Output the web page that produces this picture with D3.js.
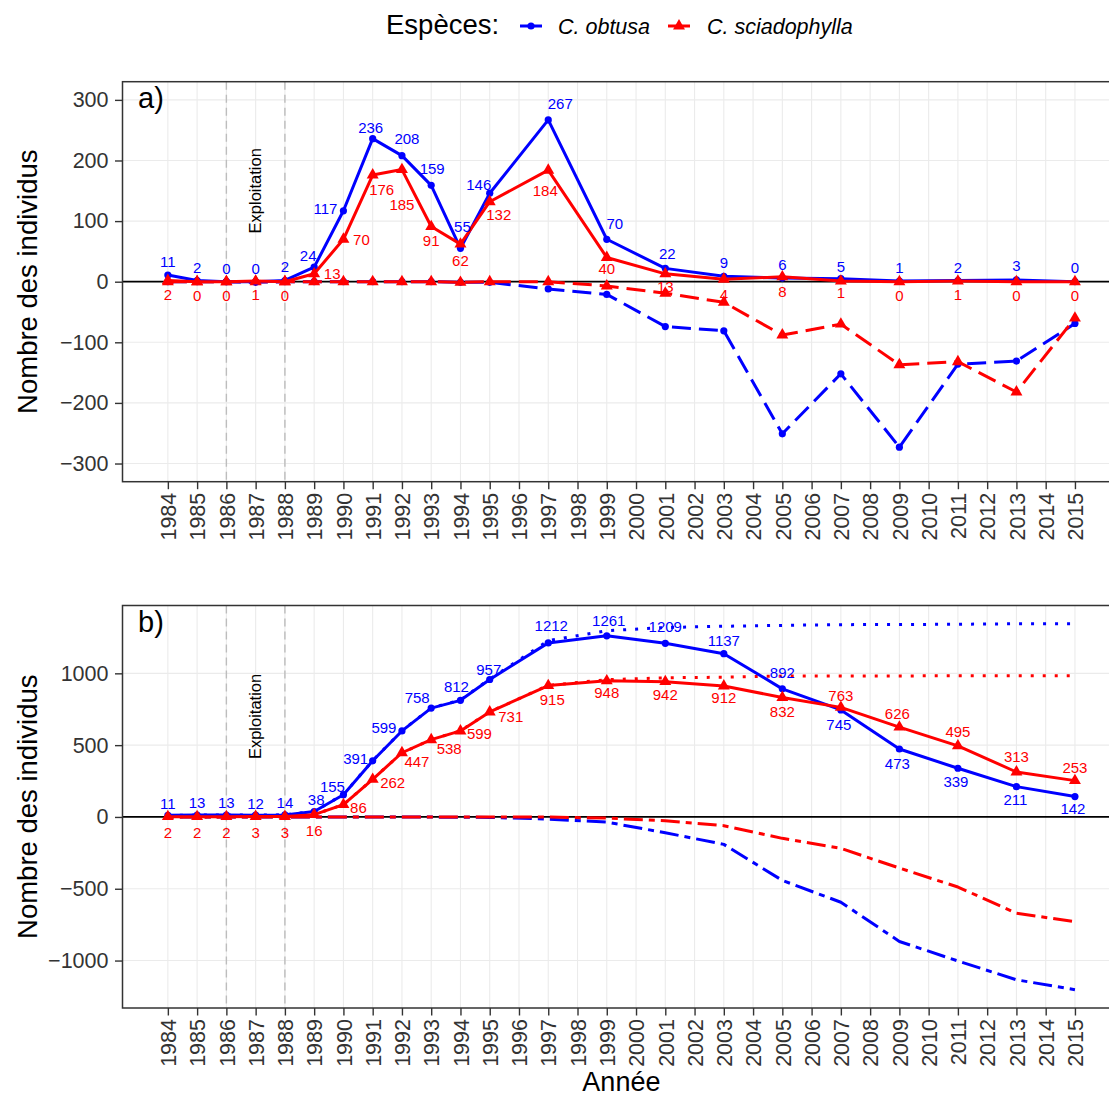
<!DOCTYPE html>
<html><head><meta charset="utf-8">
<script src="https://cdn.jsdelivr.net/npm/d3@7"></script>
<style>body{margin:0;background:#fff}</style>
</head><body>
<svg id="c" width="1109" height="1097"></svg>
<script>
// ---------------- DATA ----------------
const years = [1984,1985,1986,1987,1988,1989,1990,1991,1992,1993,1994,1995,1997,1999,2001,2003,2005,2007,2009,2011,2013,2015];
const tickYears = [1984,1985,1986,1987,1988,1989,1990,1991,1992,1993,1994,1995,1996,1997,1998,1999,2000,2001,2002,2003,2004,2005,2006,2007,2008,2009,2010,2011,2012,2013,2014,2015];
const exploitationYears = [1986, 1988];
const species = ["C. obtusa", "C. sciadophylla"];

// panel a : recruitment (positive) and mortality (negative) per census
const obtusaRecruits = [11,2,0,0,2,24,117,236,208,159,55,146,267,70,22,9,6,5,1,2,3,0];
const sciaRecruits   = [2,0,0,1,0,13,70,176,185,91,62,132,184,40,13,4,8,1,0,1,0,0];
const obtusaDeaths   = [0,0,0,-1,0,0,0,0,0,0,-1,-1,-12,-21,-74,-81,-251,-152,-273,-136,-131,-69];
const sciaDeaths     = [0,0,0,0,0,0,0,0,0,0,-1,0,0,-7,-19,-34,-88,-70,-137,-132,-182,-60];

// panel b : abundance, cumulative recruitment, cumulative mortality
const obtusaAbund = [11,13,13,12,14,38,155,391,599,758,812,957,1212,1261,1209,1137,892,745,473,339,211,142];
const sciaAbund   = [2,2,2,3,3,16,86,262,447,538,599,731,915,948,942,912,832,763,626,495,313,253];
const obtusaCumRecruits = [11,13,13,13,15,39,156,392,600,759,814,960,1227,1297,1319,1328,1334,1339,1340,1342,1345,1345];
const sciaCumRecruits   = [2,2,2,3,3,16,86,262,447,538,600,732,916,956,969,973,981,982,982,983,983,983];
const obtusaCumDeaths = [0,0,0,-1,-1,-1,-1,-1,-1,-1,-2,-3,-15,-36,-110,-191,-442,-594,-867,-1003,-1134,-1203];
const sciaCumDeaths   = [0,0,0,0,0,0,0,0,0,0,-1,-1,-1,-8,-27,-61,-149,-219,-356,-488,-670,-730];

const yTicksA = [-300,-200,-100,0,100,200,300];
const yTicksB = [-1000,-500,0,500,1000];

// label placement nudges (pixels, label centre relative to point)
const nudgeA_obtusa = [[0,-13],[0,-13],[0,-13],[0,-13],[0,-14],[-6,-12],[-18,-2],[-2,-11],[5,-17],[1,-17],[2,-22],[-11,-9],[12,-16],[8,-16],[2,-15],[0,-14],[0,-13],[0,-12],[0,-13],[0,-13],[0,-14],[0,-14]];
const nudgeA_scia   = [[0,14],[0,14],[0,14],[0,14],[0,14],[18,0],[18,0],[9,15],[0,35],[0,14],[0,16],[9,13],[-3,20],[0,11],[0,13],[0,15],[0,15],[0,12],[0,14],[0,14],[0,14],[0,14]];
const nudgeB_obtusa = [[0,-12],[0,-12],[0,-12],[0,-12],[0,-12],[2,-12],[-11,-8],[-17,-2],[-18,-3],[-14,-10],[-4,-14],[-1,-10],[3,-17],[2,-15],[0,-17],[0,-13],[0,-16],[-2,15],[-2,15],[-2,13],[-1,13],[-2,12]];
const nudgeB_scia   = [[0,16],[0,16],[0,16],[0,16],[0,16],[0,16],[15,3],[20,3],[15,9],[18,9],[19,3],[21,5],[4,14],[0,12],[0,13],[0,12],[0,14],[0,-12],[-2,-13],[0,-14],[0,-15],[0,-13]];

// ---------------- DRAWING ----------------
const FONT = '"Liberation Sans", Arial, Helvetica, sans-serif';
const BLUE = "#0000FF", RED = "#FF0000";
const LW = 3;
const svg = d3.select("#c").style("font-family", FONT);

const x = d3.scaleLinear().domain([1982.45, 2016.55]).range([122.5, 1120.3]);
const triangle = d3.symbol().type(d3.symbolTriangle).size(62);

function drawPanel(p) {
  const g = svg.append("g");
  const y = d3.scaleLinear().domain(p.yDomain).range([p.bottom, p.top]);

  // grid
  g.append("g").selectAll("line").data(tickYears).join("line")
    .attr("x1", d => x(d)).attr("x2", d => x(d)).attr("y1", p.top).attr("y2", p.bottom)
    .attr("stroke", "#ebebeb").attr("stroke-width", 1.1);
  g.append("g").selectAll("line").data(p.yTicks).join("line")
    .attr("x1", p.left).attr("x2", 1120).attr("y1", d => y(d)).attr("y2", d => y(d))
    .attr("stroke", "#ebebeb").attr("stroke-width", 1.1);

  // exploitation period
  g.append("g").selectAll("line").data(exploitationYears).join("line")
    .attr("x1", d => x(d)).attr("x2", d => x(d)).attr("y1", p.top).attr("y2", p.bottom)
    .attr("stroke", "#bdbdbd").attr("stroke-width", 1.4).attr("stroke-dasharray", "8,5");
  g.append("text")
    .attr("transform", `translate(${x(1987)},${y(p.exploitY)}) rotate(-90)`)
    .attr("text-anchor", "middle").attr("dy", "0.35em")
    .attr("font-size", 16.5).attr("fill", "#000").text("Exploitation");

  // zero line
  g.append("line").attr("x1", p.left).attr("x2", 1120).attr("y1", y(0)).attr("y2", y(0))
    .attr("stroke", "#000").attr("stroke-width", 1.8);

  // series
  p.series.forEach(s => {
    const pts = years.map((yr, i) => [yr, s.values[i]]);
    g.append("path").datum(pts)
      .attr("d", d3.line().x(d => x(d[0])).y(d => y(d[1])))
      .attr("fill", "none").attr("stroke", s.color).attr("stroke-width", LW)
      .attr("stroke-linejoin", "round")
      .attr("stroke-dasharray", s.dash || null);
    if (s.points) {
      if (s.shape === "circle") {
        g.append("g").selectAll("circle").data(pts).join("circle")
          .attr("cx", d => x(d[0])).attr("cy", d => y(d[1])).attr("r", 3.6).attr("fill", s.color);
      } else {
        g.append("g").selectAll("path").data(pts).join("path")
          .attr("d", triangle)
          .attr("transform", d => `translate(${x(d[0])},${y(d[1])})`).attr("fill", s.color);
      }
    }
  });
  // labels
  p.series.filter(s => s.labels).forEach(s => {
    g.append("g").selectAll("text").data(years.map((yr, i) => [yr, s.values[i], s.nudge[i]])).join("text")
      .attr("x", d => x(d[0]) + d[2][0]).attr("y", d => y(d[1]) + d[2][1])
      .attr("dy", "0.36em").attr("text-anchor", "middle")
      .attr("font-size", 15).attr("fill", s.color).text(d => d[1]);
  });

  // border
  g.append("rect").attr("x", p.left).attr("y", p.top).attr("width", 1120.3 - p.left).attr("height", p.bottom - p.top)
    .attr("fill", "none").attr("stroke", "#333").attr("stroke-width", 1.5);

  // axes
  const ya = g.append("g").attr("transform", `translate(${p.left},0)`)
    .call(d3.axisLeft(y).tickValues(p.yTicks).tickSize(7.5).tickPadding(6.5).tickFormat(d => d3.format("d")(d).replace("-", "\u2212")));
  ya.select(".domain").remove();
  ya.selectAll(".tick line").attr("stroke", "#333").attr("stroke-width", 1.4);
  ya.selectAll(".tick text").attr("font-size", 21.5).attr("fill", "#333").attr("font-family", FONT);

  const xa = g.append("g").attr("transform", `translate(0,${p.bottom})`)
    .call(d3.axisBottom(x).tickValues(tickYears).tickSize(7.5).tickFormat(d3.format("d")));
  xa.select(".domain").remove();
  xa.selectAll(".tick line").attr("stroke", "#333").attr("stroke-width", 1.4);
  xa.selectAll(".tick text").attr("font-size", 21.5).attr("fill", "#333").attr("font-family", FONT)
    .attr("transform", "rotate(-90)").attr("x", -11).attr("y", 0).attr("dy", "0.36em")
    .attr("text-anchor", "end");

  // y title
  svg.append("text").attr("transform", `translate(37,${(p.top + p.bottom) / 2}) rotate(-90)`)
    .attr("text-anchor", "middle").attr("font-size", 27.5).attr("fill", "#000").text("Nombre des individus");
  // tag
  svg.append("text").attr("x", p.left + 15.5).attr("y", p.top + 26.5)
    .attr("font-size", 29).attr("fill", "#000").text(p.tag);
}

drawPanel({
  top: 81.7, bottom: 481.7, left: 122.5, yDomain: [-330, 330], yTicks: yTicksA, tag: "a)", exploitY: 150,
  series: [
    { values: obtusaDeaths, color: BLUE, dash: "19,8", points: true, shape: "circle" },
    { values: sciaDeaths, color: RED, dash: "19,8", points: true, shape: "triangle" },
    { values: obtusaRecruits, color: BLUE, points: true, shape: "circle", labels: true, nudge: nudgeA_obtusa },
    { values: sciaRecruits, color: RED, points: true, shape: "triangle", labels: true, nudge: nudgeA_scia }
  ]
});

drawPanel({
  top: 605.5, bottom: 1008, left: 122.5, yDomain: [-1330.4, 1472.4], yTicks: yTicksB, tag: "b)", exploitY: 700,
  series: [
    { values: obtusaCumDeaths, color: BLUE, dash: "6,6,19,6" },
    { values: sciaCumDeaths, color: RED, dash: "6,6,19,6" },
    { values: obtusaCumRecruits, color: BLUE, dash: "3,9" },
    { values: sciaCumRecruits, color: RED, dash: "3,9" },
    { values: obtusaAbund, color: BLUE, points: true, shape: "circle", labels: true, nudge: nudgeB_obtusa },
    { values: sciaAbund, color: RED, points: true, shape: "triangle", labels: true, nudge: nudgeB_scia }
  ]
});

// x title
svg.append("text").attr("x", x((1984 + 2015) / 2)).attr("y", 1090.5)
  .attr("text-anchor", "middle").attr("font-size", 27).attr("fill", "#000").text("Année");

// legend
const lg = svg.append("g");
lg.append("text").attr("x", 386).attr("y", 34).attr("font-size", 27.5).attr("fill", "#000").text("Espèces:");
const legendItems = [
  { name: species[0], color: BLUE, shape: "circle", kx: 520, tx: 558 },
  { name: species[1], color: RED, shape: "triangle", kx: 668, tx: 707 }
];
legendItems.forEach(it => {
  lg.append("line").attr("x1", it.kx).attr("x2", it.kx + 22).attr("y1", 26).attr("y2", 26)
    .attr("stroke", it.color).attr("stroke-width", LW);
  if (it.shape === "circle") lg.append("circle").attr("cx", it.kx + 11).attr("cy", 26).attr("r", 3.6).attr("fill", it.color);
  else lg.append("path").attr("d", triangle).attr("transform", `translate(${it.kx + 11},26)`).attr("fill", it.color);
  lg.append("text").attr("x", it.tx).attr("y", 33.5).attr("font-size", 21.5).attr("font-style", "italic")
    .attr("fill", "#000").text(it.name);
});
</script>
</body></html>
